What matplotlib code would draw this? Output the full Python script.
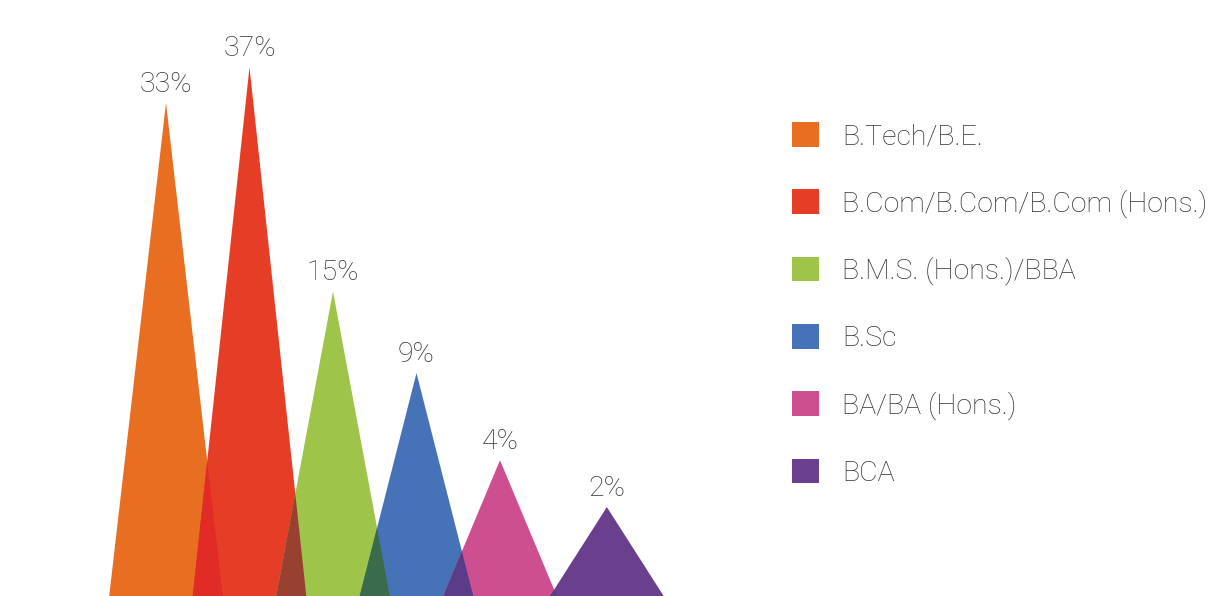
import numpy as np
import matplotlib
matplotlib.use("Agg")
from matplotlib import pyplot as plt
from matplotlib.patches import Polygon, Patch

plt.rcParams["font.family"] = ["Roboto", "DejaVu Sans"]

# share of students by degree
courses = ["B.Tech/B.E.", "B.Com/B.Com/B.Com (Hons.)", "B.M.S. (Hons.)/BBA",
           "B.Sc", "BA/BA (Hons.)", "BCA"]
shares = [33, 37, 15, 9, 4, 2]

colors = ["#e86e22", "#e63e26", "#9ec54a", "#4673b8", "#cd4f8f", "#6a3f8e"]
# colour where a peak overlaps the one to its left
overlap_colors = ["#e12b27", "#984131", "#3a6c4b", "#5a3c89", "#5a3c89"]

half_width = 0.68
power = 0.611
fs = 20.5
weight = "light"

xpos = np.arange(len(shares), dtype=float)
xpos[-1] += 0.28

fig = plt.figure(figsize=(12.11, 5.96), dpi=100)
W, H = 1211, 596
ax = fig.add_axes([0, 0, 760 / W, 1])
ax.set_yscale("function", functions=(lambda v: np.power(np.clip(v, 0, None), power),
                                      lambda v: np.power(np.clip(v, 0, None), 1 / power)))
ax.set_xlim(-166 / 83.5, (760 - 166) / 83.5)
ax.set_ylim(0, 45)
ax.axis("off")

patches = []
for i, (x, v) in enumerate(zip(xpos, shares)):
    tri = [(x - half_width, 0), (x, v), (x + half_width, 0)]
    p = Polygon(tri, closed=True, facecolor=colors[i], edgecolor="none", zorder=2)
    ax.add_patch(p)
    if i > 0:
        # same triangle again, clipped to the previous one
        ov = Polygon(tri, closed=True, facecolor=overlap_colors[i - 1],
                     edgecolor="none", zorder=3)
        ax.add_patch(ov)
        ov.set_clip_path(patches[-1])
    patches.append(p)
    ax.annotate(f"{v}%", (x, v), xytext=(0, 8), textcoords="offset points",
                ha="center", va="baseline", fontsize=fs, color="#333333",
                fontweight=weight)

handles = [Patch(facecolor=c, edgecolor="none") for c in colors]
leg = fig.legend(handles, courses, loc="upper left",
                 bbox_to_anchor=(792 / W, 1 - 122 / H), frameon=False,
                 fontsize=fs, handlelength=0.95, handleheight=0.95,
                 handletextpad=0.8, labelspacing=1.37, borderaxespad=0,
                 borderpad=0)
for t in leg.get_texts():
    t.set_color("#333333")
    t.set_fontweight(weight)

fig.savefig("out.png", dpi=100)
